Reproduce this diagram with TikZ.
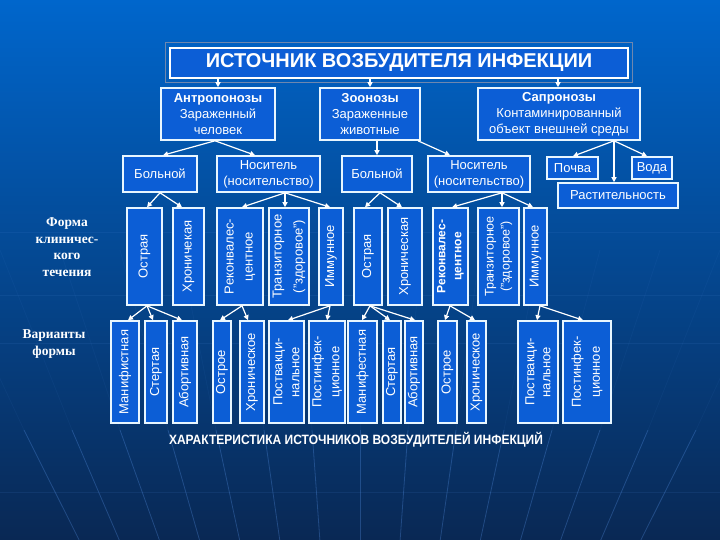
\documentclass[tikz,border=0pt]{standalone}
\usepackage{fontspec}
\setmainfont{Liberation Sans}
\newfontfamily\serifbf{Liberation Serif}
\newfontfamily\narrowbf[FakeStretch=0.89]{Liberation Sans}
\usetikzlibrary{calc,arrows.meta}
\definecolor{bgtop}{RGB}{0,102,204}
\definecolor{bgmid}{RGB}{14,74,164}
\definecolor{bgbot}{RGB}{9,40,84}
\definecolor{boxfill}{RGB}{12,94,214}
\definecolor{boxline}{RGB}{232,246,255}
\definecolor{tipcol}{RGB}{242,224,236}
\definecolor{gridcol}{RGB}{90,150,235}
\tikzset{
 box/.style={draw=boxline,line width=1.6pt,fill=boxfill,inner sep=0pt,align=center,text=white,font=\fontsize{13}{16}\selectfont},
 vtext/.style={rotate=90,align=center,inner sep=0pt,text=white,font=\fontsize{13}{18}\selectfont},
 conn/.style={draw=white,line width=1.2pt,-{Triangle[length=5pt,width=5pt,fill=tipcol]}},
 lbl/.style={text=white,align=center,inner sep=0pt,font=\serifbf\bfseries\fontsize{13.5}{16.5}\selectfont},
}
\newcommand\HB[6]{\node[box,minimum width={(#4-#2)*1pt},minimum height={(#5-#3)*1pt}] (#1) at ({(#2+#4)/2},{(#3+#5)/2}) {#6};}
\newcommand\VB[7][]{\node[box,minimum width={(#5-#3)*1pt},minimum height={(#6-#4)*1pt}] (#2) at ({(#3+#5)/2},{(#4+#6)/2}) {};
 \node[vtext,#1] (#2t) at (#2.center) {#7};}
\newcommand\AR[4]{\draw[conn] let \p1=(#1.south), \p2=(#3.north) in (#2pt,\y1) -- (#4pt,\y2);}
\begin{document}
\begin{tikzpicture}[x=1pt,y=-1pt]
\useasboundingbox (0,0) rectangle (720,540);
\shade[top color=bgtop, middle color=bgmid, bottom color=bgbot] (0,0) rectangle (720,540);
% faint background lines
\foreach \d in {-336,-288,...,336}{
 \draw[gridcol,opacity=0.06,line width=0.8pt] ({360+\d*1.25},250) -- ({360+\d*1.0},430);
 \draw[gridcol,opacity=0.3,line width=0.8pt] ({360+\d*1.0},430) -- ({360+\d*0.836},540);
}
\foreach \yy in {232,295,343,492}{
 \draw[gridcol,opacity=0.1,line width=0.8pt] (0,\yy) -- (720,\yy);
}
% title
\node[draw=white,line width=2.6pt,fill=boxfill,minimum width=458pt,minimum height=30pt,inner sep=0pt,text=white,font=\bfseries\fontsize{20}{24}\selectfont] (title) at (399,63) {ИСТОЧНИК ВОЗБУДИТЕЛЯ ИНФЕКЦИИ};
\draw[line width=0.5pt,draw={rgb,255:red,110;green,135;blue,175}] ([shift={(-3,-4)}]title.north west) rectangle ([shift={(3,3)}]title.south east);
% level 1
\HB{A}{161}{88}{275}{140}{\textbf{Антропонозы}\\Зараженный\\человек}
\HB{Z}{320}{88}{420}{140}{\textbf{Зоонозы}\\Зараженные\\животные}
\HB{S}{478}{88}{640}{140}{\textbf{Сапронозы}\\Контаминированный\\объект внешней среды}
% level 2
\HB{B1}{123}{156}{197}{192}{Больной}
\HB{N1}{217}{156}{320}{192}{Носитель\\(носительство)}
\HB{B2}{342}{156}{412}{192}{Больной}
\HB{N2}{428}{156}{530}{192}{Носитель\\(носительство)}
\HB{P}{547}{157}{598}{179}{Почва}
\HB{V}{632}{157}{672}{179}{Вода}
\HB{R}{558}{183}{678}{208}{Растительность}
% level 3
\VB{O1}{127}{208}{162}{305}{Острая}
\VB{H1}{173}{208}{204}{305}{Хроничекая}
\VB[font=\fontsize{13}{19}\selectfont]{RK1}{217}{208}{263}{305}{Реконвалес-\\центное}
\VB[font=\fontsize{13}{21}\selectfont]{TR1}{269}{208}{309}{305}{Транзиторное\\("здоровое")}
\VB{IM1}{319}{208}{343}{305}{Иммунное}
\VB{O2}{354}{208}{382}{305}{Острая}
\VB{H2}{388}{208}{422}{305}{Хроническая}
\VB[font=\bfseries\fontsize{12}{16}\selectfont]{RK2}{433}{208}{468}{305}{Реконвалес-\\центное}
\VB[font=\fontsize{12.5}{16}\selectfont]{TR2}{478}{208}{519}{305}{Транзиторное\\("здоровое")}
\VB{IM2}{524}{208}{547}{305}{Иммунное}
% level 4
\VB{M1}{111}{321}{139}{423}{Манифистная}
\VB{S1}{145}{321}{167}{423}{Стертая}
\VB{A1}{173}{321}{197}{423}{Абортивная}
\VB{OS1}{213}{321}{231}{423}{Острое}
\VB{HR1}{240}{321}{264}{423}{Хроническое}
\VB[font=\fontsize{13}{17}\selectfont]{PV1}{269}{321}{304}{423}{Поствакци-\\нальное}
\VB{PI1}{309}{321}{345}{423}{Постинфек-\\ционное}
\VB{M2}{348}{321}{377}{423}{Манифестная}
\VB{S2}{383}{321}{401}{423}{Стертая}
\VB{A2}{405}{321}{423}{423}{Абортивная}
\VB{OS2}{438}{321}{457}{423}{Острое}
\VB{HR2}{467}{321}{486}{423}{Хроническое}
\VB[font=\fontsize{13}{16}\selectfont]{PV2}{518}{321}{558}{423}{Поствакци-\\нальное}
\VB[font=\fontsize{13}{19}\selectfont]{PI2}{563}{321}{611}{423}{Постинфек-\\ционное}
% connectors
\AR{title}{218}{A}{218}
\AR{title}{370}{Z}{370}
\AR{title}{558}{S}{558}
\AR{A}{215}{B1}{163}
\AR{A}{215}{N1}{255}
\AR{Z}{377}{B2}{377}
\AR{Z}{418}{N2}{450}
\AR{S}{614}{P}{573}
\AR{S}{614}{R}{614}
\AR{S}{614}{V}{647}
\AR{B1}{160}{O1}{147}
\AR{B1}{160}{H1}{182}
\AR{N1}{285}{RK1}{242}
\AR{N1}{285}{TR1}{285}
\AR{N1}{285}{IM1}{330}
\AR{B2}{380}{O2}{365}
\AR{B2}{380}{H2}{402}
\AR{N2}{502}{RK2}{452}
\AR{N2}{502}{TR2}{502}
\AR{N2}{502}{IM2}{533}
\AR{O1}{147}{M1}{128}
\AR{O1}{147}{S1}{153}
\AR{O1}{147}{A1}{182}
\AR{RK1}{242}{OS1}{220}
\AR{RK1}{242}{HR1}{248}
\AR{IM1}{330}{PV1}{288}
\AR{IM1}{330}{PI1}{327}
\AR{O2}{370}{M2}{362}
\AR{O2}{370}{S2}{390}
\AR{O2}{370}{A2}{415}
\AR{RK2}{450}{OS2}{445}
\AR{RK2}{450}{HR2}{475}
\AR{IM2}{540}{PV2}{537}
\AR{IM2}{540}{PI2}{583}
% side labels and caption
\node[lbl] (form) at (67,247) {Форма\\клиничес-\\кого\\течения};
\node[lbl] (var) at (54,344) {Варианты\\формы};
\node[text=white,inner sep=0pt,font=\narrowbf\bfseries\fontsize{13.5}{16}\selectfont] (caption1) at (356,440) {ХАРАКТЕРИСТИКА ИСТОЧНИКОВ ВОЗБУДИТЕЛЕЙ ИНФЕКЦИЙ};
\end{tikzpicture}
\end{document}
